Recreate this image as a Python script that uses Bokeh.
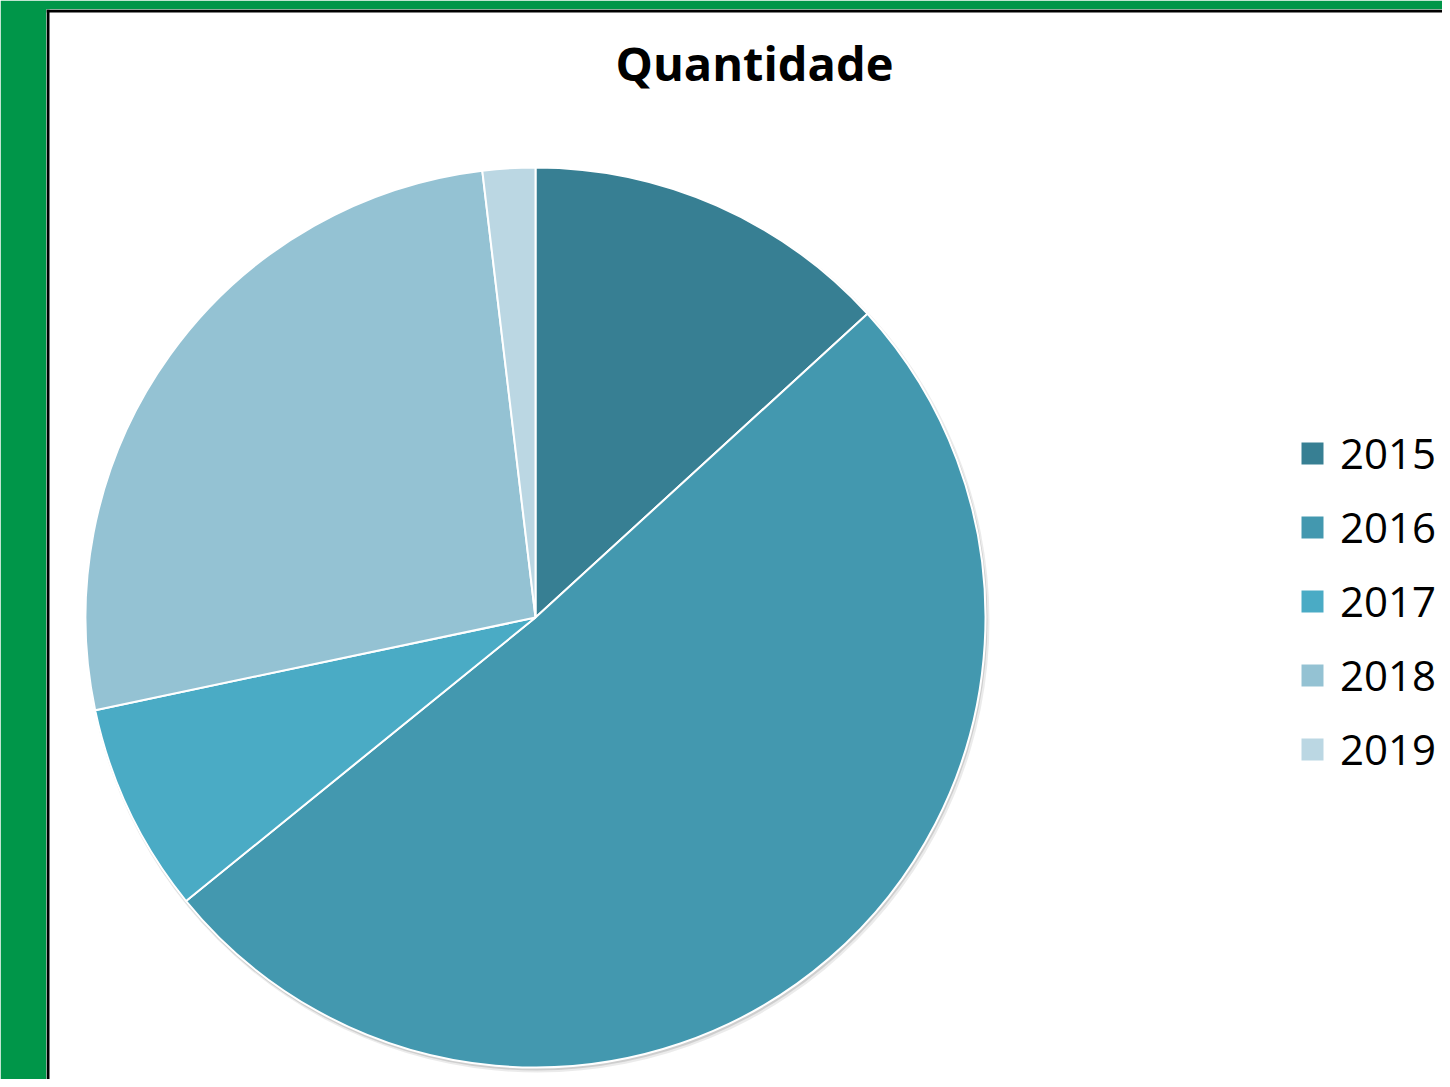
import numpy as np
from bokeh.plotting import figure
from bokeh.models import Range1d, Label, Legend, LegendItem, ColumnDataSource, Span
from bokeh.embed import file_html
from bokeh.resources import INLINE

# ---- data ----
years = ["2015", "2016", "2017", "2018", "2019"]
quantidade = [14, 54, 8, 28, 2]
colors = ["#377F93", "#4398AF", "#4AABC5", "#94C2D3", "#BBD7E3"]
title_text = "Quantidade"

total = float(sum(quantidade))
frac = np.array(quantidade) / total
cum = np.concatenate([[0.0], np.cumsum(frac)])
start = np.pi / 2 - 2 * np.pi * cum[:-1]
end = np.pi / 2 - 2 * np.pi * cum[1:]

src = ColumnDataSource(dict(year=years, value=quantidade, color=colors,
                            start=start, end=end))

W, H = 1442, 1079
L, T = 46, 9
p = figure(width=W, height=H,
           x_range=Range1d(L, W), y_range=Range1d(0, H - T),
           x_axis_type=None, y_axis_type=None,
           output_backend="svg", toolbar_location=None,
           min_border_left=L, min_border_top=T,
           min_border_right=0, min_border_bottom=0,
           border_fill_color="#009649", background_fill_color="white",
           outline_line_color=None)
p.grid.visible = False

# black frame lines (left and top)
p.add_layout(Span(location=L + 1.5, dimension="height", line_color="black", line_width=3))
p.add_layout(Span(location=H - T - 1.5, dimension="width", line_color="black", line_width=3))

cx, cy, r = 535, H - 617, 450

# soft shadow
p.circle(x=[cx + 2], y=[cy - 3], radius=r + 2, fill_color="black",
         fill_alpha=0.08, line_color=None)
p.circle(x=[cx + 1], y=[cy - 2], radius=r + 1, fill_color="black",
         fill_alpha=0.12, line_color=None)

w = p.wedge(x=cx, y=cy, radius=r, start_angle="start", end_angle="end",
            direction="clock", fill_color="color", line_color="white",
            line_width=2, source=src)

items = [LegendItem(label=years[i], renderers=[w], index=i) for i in range(len(years))]
legend = Legend(items=items, location=(1297 - L, 302),
                glyph_width=30, glyph_height=30, label_height=48,
                label_text_font="Open Sans", label_text_font_size="42px",
                label_text_color="black",
                label_standoff=13, spacing=17, padding=0, margin=0,
                border_line_color=None, background_fill_alpha=0)
p.add_layout(legend)

p.add_layout(Label(x=754, y=H - 62, text=title_text, text_font="Open Sans",
                   text_font_style="bold", text_font_size="47px",
                   text_color="black",
                   text_align="center", text_baseline="alphabetic"))

open("out.html", "w").write(file_html(p, INLINE))
